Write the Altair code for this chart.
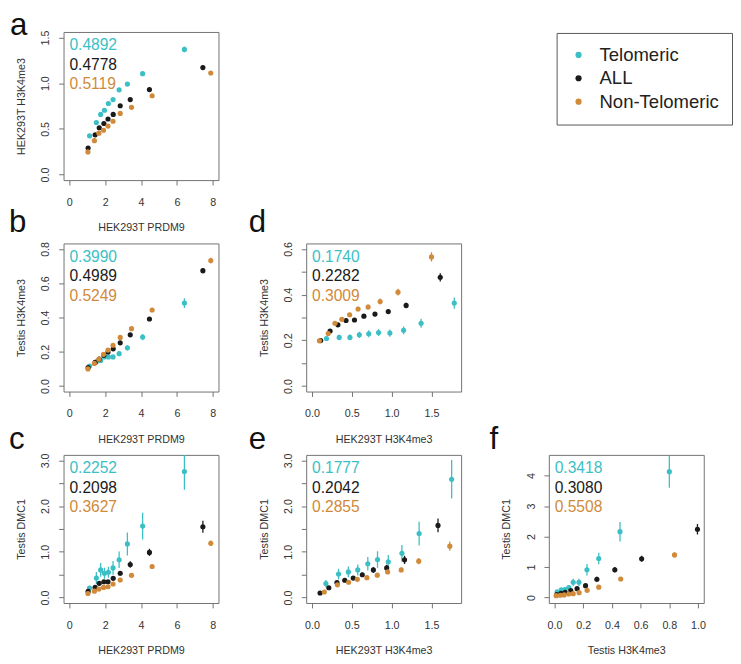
import altair as alt
import pandas as pd

groups = ["Telomeric", "ALL", "Non-Telomeric"]
colors = ["#3BBFC5", "#1A1A1A", "#D08A3A"]

# x values: HEK293T PRDM9 bins (panels a, b, c)
prdm9_tel = [1.13, 1.51, 1.75, 1.96, 2.18, 2.44, 2.78, 3.24, 4.09, 6.42]
prdm9_all = [1.05, 1.44, 1.67, 1.93, 2.16, 2.45, 2.84, 3.40, 4.47, 7.45]
prdm9_non = [1.04, 1.40, 1.65, 1.91, 2.16, 2.44, 2.84, 3.47, 4.62, 7.89]

# panel a: HEK293T H3K4me3
a_y_tel = [0.424, 0.570, 0.658, 0.704, 0.778, 0.821, 0.927, 0.990, 1.104, 1.369]
a_y_all = [0.290, 0.435, 0.513, 0.559, 0.608, 0.658, 0.753, 0.821, 0.930, 1.171]
a_y_non = [0.248, 0.371, 0.453, 0.485, 0.531, 0.584, 0.669, 0.736, 0.863, 1.111]
a_e_tel = [0.010, 0.010, 0.010, 0.010, 0.012, 0.012, 0.015, 0.018, 0.022, 0.030]
a_e_all = [0.008, 0.008, 0.008, 0.008, 0.008, 0.008, 0.010, 0.010, 0.012, 0.020]
a_e_non = [0.008, 0.008, 0.008, 0.008, 0.008, 0.008, 0.008, 0.010, 0.012, 0.015]

# panel b: Testis H3K4me3
b_y_tel = [0.117, 0.142, 0.149, 0.170, 0.170, 0.170, 0.189, 0.223, 0.286, 0.484]
b_y_all = [0.108, 0.138, 0.157, 0.180, 0.199, 0.217, 0.252, 0.299, 0.391, 0.673]
b_y_non = [0.100, 0.132, 0.157, 0.185, 0.210, 0.238, 0.284, 0.335, 0.444, 0.732]
b_e_tel = [0.006, 0.007, 0.008, 0.008, 0.009, 0.010, 0.012, 0.014, 0.018, 0.028]
b_e_all = [0.004, 0.005, 0.005, 0.005, 0.006, 0.006, 0.007, 0.008, 0.010, 0.015]
b_e_non = [0.004, 0.005, 0.005, 0.005, 0.006, 0.006, 0.007, 0.008, 0.010, 0.016]

# panel d: x HEK293T H3K4me3, y Testis H3K4me3
d_x_tel = [0.183, 0.342, 0.477, 0.595, 0.713, 0.836, 0.978, 1.150, 1.370, 1.786]
d_y_tel = [0.208, 0.213, 0.213, 0.224, 0.229, 0.234, 0.232, 0.244, 0.275, 0.363]
d_x_all = [0.110, 0.228, 0.326, 0.428, 0.534, 0.652, 0.791, 0.958, 1.182, 1.610]
d_y_all = [0.199, 0.241, 0.268, 0.287, 0.289, 0.306, 0.315, 0.326, 0.353, 0.476]
d_x_non = [0.094, 0.204, 0.289, 0.375, 0.473, 0.579, 0.705, 0.856, 1.080, 1.500]
d_y_non = [0.198, 0.230, 0.275, 0.292, 0.312, 0.337, 0.346, 0.370, 0.411, 0.565]
d_e_tel = [0.010, 0.012, 0.013, 0.014, 0.015, 0.015, 0.016, 0.017, 0.020, 0.025]
d_e_all = [0.005, 0.006, 0.007, 0.007, 0.008, 0.008, 0.009, 0.010, 0.012, 0.018]
d_e_non = [0.006, 0.007, 0.008, 0.008, 0.009, 0.010, 0.011, 0.013, 0.015, 0.020]

# panel c: Testis DMC1 vs HEK293T PRDM9
c_y_tel = [0.206, 0.427, 0.604, 0.531, 0.553, 0.648, 0.825, 1.172, 1.562, 2.756]
c_y_all = [0.133, 0.221, 0.310, 0.346, 0.346, 0.420, 0.531, 0.722, 0.987, 1.548]
c_y_non = [0.088, 0.140, 0.184, 0.221, 0.236, 0.295, 0.383, 0.486, 0.678, 1.186]
c_e_tel = [0.05, 0.13, 0.15, 0.12, 0.12, 0.15, 0.18, 0.25, 0.29, 0.40]
c_e_all = [0.03, 0.04, 0.04, 0.04, 0.04, 0.05, 0.05, 0.07, 0.08, 0.13]
c_e_non = [0.02, 0.02, 0.02, 0.02, 0.02, 0.02, 0.03, 0.03, 0.04, 0.06]

# panel e: Testis DMC1 vs HEK293T H3K4me3
e_x_tel = [0.175, 0.334, 0.457, 0.575, 0.701, 0.823, 0.958, 1.129, 1.345, 1.753]
e_y_tel = [0.306, 0.512, 0.561, 0.604, 0.739, 0.832, 0.782, 0.967, 1.400, 2.587]
e_x_all = [0.102, 0.212, 0.314, 0.412, 0.518, 0.632, 0.771, 0.938, 1.162, 1.582]
e_y_all = [0.100, 0.213, 0.327, 0.377, 0.426, 0.498, 0.604, 0.647, 0.824, 1.578]
e_x_non = [0.155, 0.320, 0.460, 0.570, 0.690, 0.820, 0.950, 1.120, 1.340, 1.730]
e_y_non = [0.120, 0.277, 0.334, 0.398, 0.434, 0.490, 0.561, 0.604, 0.796, 1.123]
e_e_tel = [0.08, 0.12, 0.12, 0.12, 0.15, 0.18, 0.15, 0.18, 0.26, 0.42]
e_e_all = [0.02, 0.03, 0.04, 0.04, 0.04, 0.05, 0.06, 0.07, 0.09, 0.15]
e_e_non = [0.02, 0.03, 0.03, 0.03, 0.03, 0.04, 0.04, 0.05, 0.07, 0.10]

# panel f: Testis DMC1 vs Testis H3K4me3
f_x_tel = [0.018, 0.047, 0.072, 0.099, 0.130, 0.170, 0.226, 0.308, 0.456, 0.800]
f_y_tel = [0.19, 0.25, 0.26, 0.33, 0.50, 0.50, 0.91, 1.28, 2.16, 4.13]
f_x_all = [0.015, 0.045, 0.074, 0.113, 0.157, 0.216, 0.295, 0.420, 0.607, 0.996]
f_y_all = [0.10, 0.14, 0.17, 0.23, 0.29, 0.39, 0.60, 0.91, 1.27, 2.24]
f_x_non = [0.011, 0.040, 0.067, 0.099, 0.130, 0.171, 0.227, 0.308, 0.461, 0.836]
f_y_non = [0.060, 0.075, 0.085, 0.117, 0.128, 0.160, 0.235, 0.341, 0.608, 1.397]
f_e_tel = [0.05, 0.06, 0.07, 0.08, 0.12, 0.12, 0.19, 0.19, 0.32, 0.53]
f_e_all = [0.02, 0.03, 0.03, 0.04, 0.05, 0.06, 0.08, 0.09, 0.10, 0.17]
f_e_non = [0.02, 0.02, 0.02, 0.02, 0.02, 0.03, 0.03, 0.04, 0.05, 0.08]

stats_a = ["0.4892", "0.4778", "0.5119"]
stats_b = ["0.3990", "0.4989", "0.5249"]
stats_d = ["0.1740", "0.2282", "0.3009"]
stats_c = ["0.2252", "0.2098", "0.3627"]
stats_e = ["0.1777", "0.2042", "0.2855"]
stats_f = ["0.3418", "0.3080", "0.5508"]

W, H = 159, 152
FONT = "Liberation Sans"
FRAME = "#707070"
TXT = "#333333"


def make_df(xs, ys, errs):
    rows = []
    for g, xv, yv, ev in zip(groups, xs, ys, errs):
        for a, b, e in zip(xv, yv, ev):
            rows.append({"group": g, "x": a, "y": b, "lo": b - e, "hi": b + e})
    return pd.DataFrame(rows)


color_enc = alt.Color(
    "group:N",
    scale=alt.Scale(domain=groups, range=colors),
    legend=alt.Legend(
        orient="none", legendX=506, legendY=1, title=None,
        labelFontSize=19, labelFont=FONT, labelColor="#222222",
        symbolType="circle", symbolSize=40, symbolStrokeWidth=0,
        strokeColor="#555555", padding=13, rowPadding=4, labelOffset=12,
        fillColor="white",
    ),
)


def panel(df, xdom, ydom, xvals, xfmt, yvals, ylabexpr, xtitle, ytitle,
          stats, letter, letter_x, letter_y):
    xenc = alt.X("x:Q", scale=alt.Scale(domain=xdom, nice=False, zero=False),
                 axis=alt.Axis(values=xvals, format=xfmt, title=xtitle,
                               labelPadding=12, titlePadding=15))
    yaxis = alt.Axis(values=yvals, labelExpr=ylabexpr, title=ytitle,
                     labelAngle=270, labelAlign="center", labelBaseline="bottom",
                     labelPadding=8, titlePadding=14)
    yscale = alt.Scale(domain=ydom, nice=False, zero=False)
    base = alt.Chart(df)
    rules = base.mark_rule(strokeWidth=1.3, clip=True).encode(
        x=xenc, y=alt.Y("lo:Q", scale=yscale, axis=yaxis), y2="hi:Q",
        color=color_enc)
    pts = base.mark_circle(size=28, opacity=1, clip=True).encode(
        x=xenc, y=alt.Y("y:Q", scale=yscale, axis=yaxis), color=color_enc)
    layers = [rules, pts]
    for i, (s, c) in enumerate(zip(stats, colors)):
        layers.append(
            alt.Chart(pd.DataFrame({"t": [s]})).mark_text(
                align="left", baseline="middle", fontSize=16, font=FONT, color=c
            ).encode(text="t:N", x=alt.value(6), y=alt.value(14 + 20 * i))
        )
    layers.append(
        alt.Chart(pd.DataFrame({"t": [letter]})).mark_text(
            align="left", baseline="alphabetic", fontSize=32, font=FONT, color="#111111"
        ).encode(text="t:N", x=alt.value(letter_x), y=alt.value(letter_y))
    )
    return alt.layer(*layers).properties(width=W, height=H)


def empty():
    return alt.Chart(pd.DataFrame({"x": [0.0]})).mark_point(opacity=0).encode(
        x=alt.X("x:Q", axis=None), y=alt.Y("x:Q", axis=None)
    ).properties(width=W, height=H, view=alt.ViewBackground(stroke=None))


fmt1 = "format(datum.value, '.1f')"
int_only = "datum.value % 1 == 0 ? format(datum.value, '.1f') : ''"
even_only = "round(datum.value * 10) % 2 == 0 ? format(datum.value, '.1f') : ''"


def build(pad, a_letter_y):
    pa = panel(make_df([prdm9_tel, prdm9_all, prdm9_non], [a_y_tel, a_y_all, a_y_non],
                       [a_e_tel, a_e_all, a_e_non]),
               [-0.32, 8.32], [-0.06, 1.56], [0, 2, 4, 6, 8], "d", [0, 0.5, 1.0, 1.5], fmt1,
               "HEK293T PRDM9", "HEK293T H3K4me3", stats_a, "a", -55, a_letter_y)
    pb = panel(make_df([prdm9_tel, prdm9_all, prdm9_non], [b_y_tel, b_y_all, b_y_non],
                       [b_e_tel, b_e_all, b_e_non]),
               [-0.32, 8.32], [-0.032, 0.832], [0, 2, 4, 6, 8], "d",
               [0, 0.2, 0.4, 0.6, 0.8], fmt1,
               "HEK293T PRDM9", "Testis H3K4me3", stats_b, "b", -56, -12)
    pdd = panel(make_df([d_x_tel, d_x_all, d_x_non], [d_y_tel, d_y_all, d_y_non],
                        [d_e_tel, d_e_all, d_e_non]),
                [-0.072, 1.872], [-0.024, 0.624], [0, 0.5, 1.0, 1.5], ".1f",
                [0, 0.1, 0.2, 0.3, 0.4, 0.5, 0.6], even_only,
                "HEK293T H3K4me3", "Testis H3K4me3", stats_d, "d", -59, -12)
    pc = panel(make_df([prdm9_tel, prdm9_all, prdm9_non], [c_y_tel, c_y_all, c_y_non],
                       [c_e_tel, c_e_all, c_e_non]),
               [-0.32, 8.32], [-0.12, 3.12], [0, 2, 4, 6, 8], "d",
               [0, 0.5, 1.0, 1.5, 2.0, 2.5, 3.0], int_only,
               "HEK293T PRDM9", "Testis DMC1", stats_c, "c", -56, -6)
    pe = panel(make_df([e_x_tel, e_x_all, e_x_non], [e_y_tel, e_y_all, e_y_non],
                       [e_e_tel, e_e_all, e_e_non]),
               [-0.072, 1.872], [-0.12, 3.12], [0, 0.5, 1.0, 1.5], ".1f",
               [0, 0.5, 1.0, 1.5, 2.0, 2.5, 3.0], int_only,
               "HEK293T H3K4me3", "Testis DMC1", stats_e, "e", -59, -6)
    pf = panel(make_df([f_x_tel, f_x_all, f_x_non], [f_y_tel, f_y_all, f_y_non],
                       [f_e_tel, f_e_all, f_e_non]),
               [-0.04, 1.04], [-0.18, 4.68], [0, 0.2, 0.4, 0.6, 0.8, 1.0], ".1f",
               [0, 1, 2, 3, 4], "format(datum.value, 'd')",
               "Testis H3K4me3", "Testis DMC1", stats_f, "f", -61, -6)

    return alt.concat(
        pa, empty(), empty(),
        pb, pdd, empty(),
        pc, pe, pf,
        columns=3, spacing={"row": 65, "column": 90}, bounds="flush",
    ).properties(padding=pad).configure(font=FONT).configure_view(
        stroke=FRAME, strokeWidth=1
    ).configure_axis(
        grid=False, domain=False, ticks=True, tickSize=5, tickColor=FRAME, tickWidth=1,
        labelFontSize=11, labelFont=FONT, labelColor=TXT,
        titleFontSize=11, titleFont=FONT, titleColor=TXT, titleFontWeight="normal",
    )


try:
    chart = build({"top": -8, "left": 0, "right": 0, "bottom": 0}, 3)
    chart.to_dict()
except Exception:
    chart = build(0, 11)

chart.save("out.html", embed_options={"renderer": "svg", "actions": False})
